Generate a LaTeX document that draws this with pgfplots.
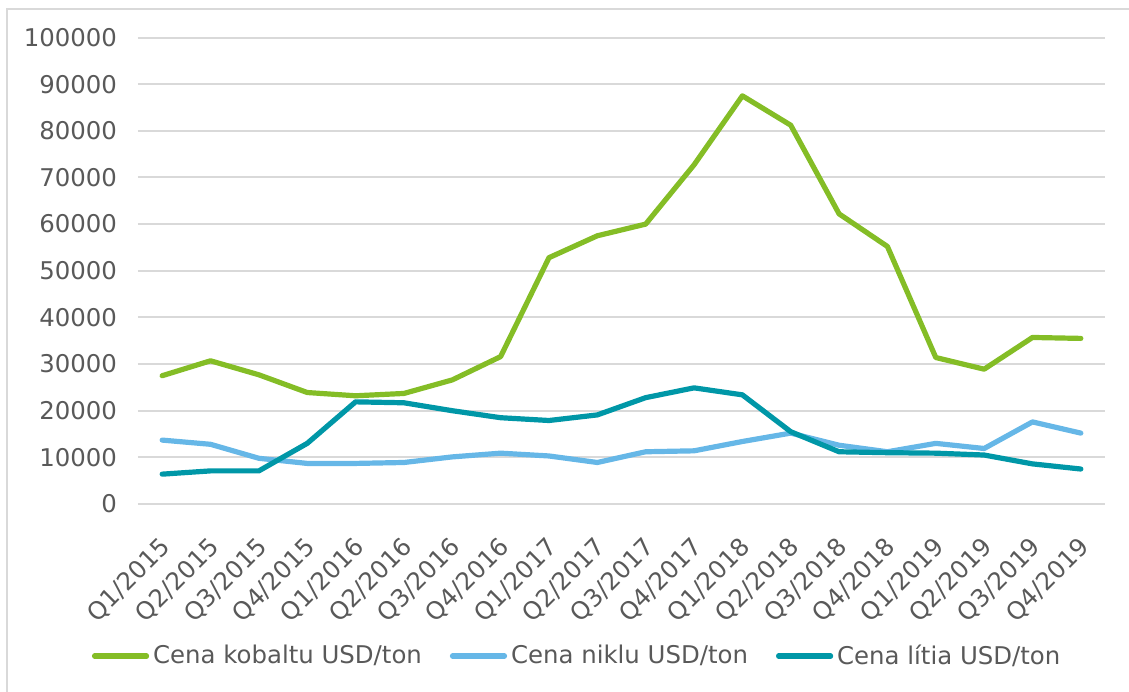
\documentclass[border=0pt]{standalone}
\usepackage{pgfplots}
\pgfplotsset{compat=1.18}
\usepackage{fontspec}
\setmainfont{DejaVu Sans}
\definecolor{cgreen}{RGB}{132,189,38}
\definecolor{cblue}{RGB}{102,183,231}
\definecolor{cteal}{RGB}{0,151,167}
\definecolor{cgrid}{RGB}{217,217,217}
\definecolor{ctext}{RGB}{89,89,89}
\begin{document}
\begin{tikzpicture}
\useasboundingbox (0,0) rectangle (564.5pt,-345.5pt);
\draw[cgrid, line width=1pt] (3.5pt,-360pt) -- (3.5pt,-4.5pt) -- (580pt,-4.5pt);
\begin{axis}[
  at={(69pt,-252pt)}, anchor=south west,
  scale only axis, width=483.5pt, height=233.25pt,
  xmin=-0.5, xmax=19.5, ymin=0, ymax=100000,
  axis line style={draw=none},
  major tick length=0pt,
  scaled y ticks=false,
  ymajorgrids, grid style={cgrid, line width=1pt},
  xtick={0,...,19},
  xticklabels={Q1/2015,Q2/2015,Q3/2015,Q4/2015,Q1/2016,Q2/2016,Q3/2016,Q4/2016,Q1/2017,Q2/2017,Q3/2017,Q4/2017,Q1/2018,Q2/2018,Q3/2018,Q4/2018,Q1/2019,Q2/2019,Q3/2019,Q4/2019},
  ytick={0,10000,20000,30000,40000,50000,60000,70000,80000,90000,100000},
  yticklabels={0,10000,20000,30000,40000,50000,60000,70000,80000,90000,100000},
  tick label style={font=\fontsize{12.2pt}{14.5pt}\selectfont, text=ctext},
  xticklabel style={rotate=45, anchor=east, yshift=-15.5pt, xshift=-9pt},
  yticklabel style={anchor=east, xshift=-7pt},
  legend columns=3,
  legend style={draw=none, fill=none, at={(-0.0476,-0.326)}, anchor=west,
    font=\fontsize{12.2pt}{14.5pt}\selectfont, text=ctext,
    /tikz/every even column/.append style={column sep=12pt},
    inner sep=0pt, outer sep=0pt},
  legend image code/.code={\draw[#1, line width=2.6pt, line cap=round] (0pt,0pt) -- (26pt,0pt);},
  every axis plot/.append style={line width=2.6pt, line join=round, line cap=round},
]
\addplot[cgreen] coordinates {
(0,27500) (1,30700) (2,27700) (3,23900) (4,23200) (5,23700) (6,26600) (7,31600) (8,52800) (9,57500)
(10,60000) (11,72700) (12,87500) (13,81200) (14,62200) (15,55200) (16,31400) (17,28900) (18,35700) (19,35500)};
\addlegendentry{Cena kobaltu USD/ton}
\addplot[cblue] coordinates {
(0,13700) (1,12800) (2,9800) (3,8700) (4,8700) (5,8900) (6,10100) (7,10900) (8,10300) (9,8900)
(10,11200) (11,11400) (12,13400) (13,15200) (14,12600) (15,11200) (16,13000) (17,11900) (18,17600) (19,15200)};
\addlegendentry{Cena niklu USD/ton}
\addplot[cteal] coordinates {
(0,6400) (1,7100) (2,7100) (3,13000) (4,21900) (5,21700) (6,20000) (7,18500) (8,17900) (9,19100)
(10,22800) (11,24900) (12,23400) (13,15500) (14,11200) (15,11000) (16,10900) (17,10500) (18,8600) (19,7500)};
\addlegendentry{Cena lítia USD/ton}
\end{axis}
\end{tikzpicture}
\end{document}
